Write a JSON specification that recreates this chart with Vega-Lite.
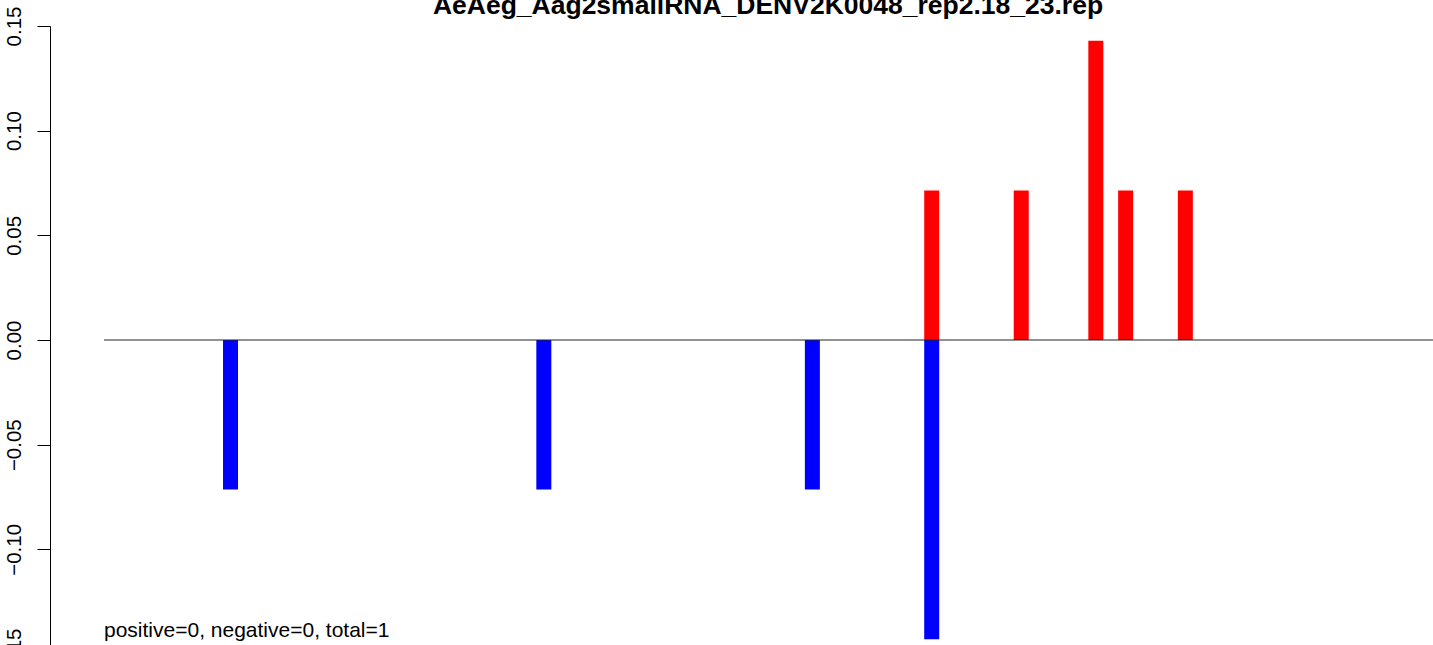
{
  "$schema": "https://vega.github.io/schema/vega-lite/v6.json",
  "autosize": {"type": "none"},
  "padding": {"left": 50, "top": 26, "right": 0, "bottom": 0},
  "width": 1383,
  "height": 628,
  "background": "white",
  "config": {"view": {"stroke": null}, "font": "Liberation Sans"},
  "title": {
    "text": "AeAeg_Aag2smallRNA_DENV2K0048_rep2.18_23.rep",
    "frame": "group",
    "anchor": "middle",
    "dx": 26.5,
    "dy": 34,
    "offset": 0,
    "baseline": "alphabetic",
    "font": "Liberation Sans",
    "fontSize": 26.5,
    "fontWeight": "bold",
    "color": "black"
  },
  "layer": [
    {
      "data": {
        "values": [
          {"pos": 9, "value": -0.0714, "strand": "minus"},
          {"pos": 30, "value": -0.0714, "strand": "minus"},
          {"pos": 48, "value": -0.0714, "strand": "minus"},
          {"pos": 56, "value": -0.1429, "strand": "minus"},
          {"pos": 56, "value": 0.0714, "strand": "plus"},
          {"pos": 62, "value": 0.0714, "strand": "plus"},
          {"pos": 67, "value": 0.1429, "strand": "plus"},
          {"pos": 69, "value": 0.0714, "strand": "plus"},
          {"pos": 73, "value": 0.0714, "strand": "plus"}
        ]
      },
      "mark": {"type": "bar", "size": 15},
      "encoding": {
        "x": {"field": "pos", "type": "quantitative", "scale": {"domain": [-3.1, 89.6], "nice": false, "zero": false, "padding": 0}, "axis": null},
        "y": {
          "field": "value",
          "type": "quantitative",
          "stack": null,
          "scale": {"domain": [-0.15, 0.15], "nice": false, "padding": 0},
          "axis": {
            "title": null,
            "values": [-0.15, -0.1, -0.05, 0, 0.05, 0.1, 0.15],
            "labelExpr": "replace(format(datum.value, '.2f'), '-', '\u2212')",
            "grid": false,
            "domainColor": "black",
            "domainWidth": 1,
            "tickColor": "black",
            "tickWidth": 1,
            "tickSize": 13,
            "labelAngle": 270,
            "labelAlign": "center",
            "labelBaseline": "alphabetic",
            "labelPadding": 17,
            "labelFont": "Liberation Sans",
            "labelFontSize": 20.5,
            "labelColor": "black",
            "labelOverlap": false,
            "labelBound": false,
            "labelFlush": false
          }
        },
        "color": {
          "field": "strand",
          "type": "nominal",
          "scale": {"domain": ["plus", "minus"], "range": ["#FF0000", "#0000FF"]},
          "legend": null
        }
      }
    },
    {
      "data": {"values": [{"label": "baseline"}]},
      "mark": {"type": "rule", "color": "#222222", "strokeWidth": 1},
      "encoding": {
        "x": {"datum": 0.52, "type": "quantitative"},
        "x2": {"datum": 89.6},
        "y": {"datum": 0, "type": "quantitative"}
      }
    },
    {
      "data": {"values": [{"label": "positive=0, negative=0, total=1"}]},
      "mark": {"type": "text", "align": "left", "baseline": "alphabetic", "font": "Liberation Sans", "fontSize": 21, "color": "black"},
      "encoding": {
        "x": {"datum": 0.52, "type": "quantitative"},
        "y": {"datum": -0.1419, "type": "quantitative"},
        "text": {"field": "label", "type": "nominal"}
      }
    }
  ]
}
